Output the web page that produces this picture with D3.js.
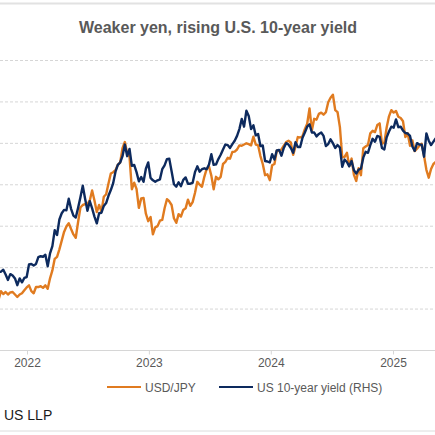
<html>
  <head>
    <style>
      body { margin: 0; background: #fff; }
      #main text { font-family: Arial, "Liberation Sans", sans-serif; }
    </style>
  </head>
  <body>
    <div id="main"><svg></svg></div>
    <script src="https://d3js.org/d3.v7.min.js"></script>
    <script>
      // weekly (Friday) readings, Sep 24 2021 .. May 9 2025
      var usdjpy2021 = [110.7, 111.0, 112.2, 114.2, 113.5, 114.0, 113.4, 113.9, 114.0, 113.4, 112.8, 113.4, 113.7, 114.4, 115.1];
      var usdjpy2022 = [115.6, 114.2, 113.7, 115.2, 115.2, 115.4, 115.0, 115.6, 114.8, 117.3, 119.2, 122.0,
                        122.5, 124.3, 126.4, 128.5, 129.8, 130.6, 129.2, 127.9, 127.1, 130.9, 134.4, 135.0, 135.2,
                        135.2, 136.1, 138.5, 136.1, 133.3, 135.0, 133.4, 137.0, 137.6, 140.2, 142.6, 142.9, 143.4, 144.7,
                        145.3, 148.7, 150.2, 147.5, 146.6, 138.8, 140.4, 138.9, 134.3, 136.6, 136.7, 132.9, 131.1];
      var usdjpy2023 = [132.1, 127.9, 129.6, 129.9, 131.2, 131.4, 134.2, 136.4, 135.9, 135.0, 131.8, 130.7, 132.8,
                        132.2, 133.8, 134.2, 136.3, 134.8, 135.7, 137.9, 140.6, 139.9, 139.4, 141.8, 143.7, 144.3,
                        142.1, 138.8, 141.8, 141.2, 141.8, 144.9, 145.4, 146.4, 146.2, 147.8, 147.9, 148.4, 149.4,
                        149.3, 149.6, 149.9, 149.7, 149.4, 151.5, 149.6, 149.4, 146.8, 144.9, 142.2, 142.4, 141.0];
      var usdjpy2024 = [144.6, 144.9, 148.1, 148.1, 148.4, 149.3, 150.2, 150.5, 150.1, 147.1, 149.1, 151.4, 151.3,
                        151.6, 153.3, 154.6, 158.3, 153.0, 155.8, 155.6, 157.0, 157.3, 156.8, 157.4, 159.8, 160.9,
                        161.6, 157.9, 157.4, 153.8, 146.5, 146.6, 147.6, 144.4, 146.2, 142.3, 140.8, 143.9, 142.2,
                        148.7, 149.1, 149.5, 152.3, 152.9, 152.6, 154.3, 154.7, 149.8, 150.0, 153.7, 156.4, 157.9];
      var usdjpy2025 = [157.3, 157.7, 156.3, 156.0, 155.2, 151.4, 152.3, 149.3, 150.6, 148.0, 148.6, 149.3, 149.8,
                        146.9, 143.5, 141.6, 143.7, 144.9, 145.4];

      var ust2021 = [1.46, 1.47, 1.61, 1.62, 1.66, 1.56, 1.45, 1.57, 1.54, 1.48, 1.34, 1.48, 1.40, 1.49, 1.51];
      var ust2022 = [1.77, 1.78, 1.75, 1.78, 1.92, 1.94, 1.93, 1.97, 1.73, 2.00, 2.15, 2.48, 2.38, 2.70, 2.83,
                     2.90, 2.89, 3.13, 2.92, 2.78, 2.74, 2.94, 3.16, 3.40, 3.13, 2.88, 3.08, 2.93, 2.76, 2.62,
                     2.83, 2.84, 2.98, 3.04, 3.19, 3.31, 3.45, 3.69, 3.83, 3.88, 4.01, 4.25, 4.01, 4.16, 3.81,
                     3.83, 3.68, 3.49, 3.58, 3.48, 3.75, 3.88];
      var ust2023 = [3.56, 3.51, 3.48, 3.51, 3.53, 3.74, 3.82, 3.95, 3.96, 3.70, 3.43, 3.38, 3.47, 3.39, 3.52,
                     3.57, 3.44, 3.44, 3.46, 3.68, 3.80, 3.69, 3.74, 3.76, 3.74, 3.84, 4.05, 3.83, 3.84, 3.95,
                     4.04, 4.15, 4.25, 4.24, 4.18, 4.26, 4.33, 4.43, 4.57, 4.78, 4.62, 4.95, 4.84, 4.57, 4.65,
                     4.44, 4.47, 4.22, 4.23, 3.91, 3.90, 3.88];
      var ust2024 = [4.05, 3.94, 4.13, 4.14, 4.02, 4.18, 4.28, 4.25, 4.18, 4.08, 4.30, 4.20, 4.20, 4.39, 4.50,
                     4.62, 4.67, 4.50, 4.50, 4.42, 4.47, 4.50, 4.43, 4.22, 4.26, 4.36, 4.28, 4.18, 4.24, 4.19,
                     3.79, 3.94, 3.89, 3.80, 3.91, 3.72, 3.65, 3.73, 3.75, 3.98, 4.10, 4.08, 4.24, 4.37, 4.31,
                     4.43, 4.41, 4.18, 4.15, 4.40, 4.52, 4.62];
      var ust2025 = [4.60, 4.77, 4.61, 4.62, 4.54, 4.49, 4.48, 4.43, 4.21, 4.12, 4.28, 4.25, 4.25, 4.00, 4.48,
                     4.33, 4.24, 4.31, 4.38];

      var yearTicks = [2022, 2023, 2024, 2025];
      var leftTicks = [100, 110, 120, 130, 140, 150, 160, 170];
      var seriesNames = ["USD/JPY", "US 10-year yield (RHS)"];
      var title = "Weaker yen, rising U.S. 10-year yield";
      var source = "US LLP";

      var usdjpy = [].concat(usdjpy2021, usdjpy2022, usdjpy2023, usdjpy2024, usdjpy2025);
      var ust = [].concat(ust2021, ust2022, ust2023, ust2024, ust2025);
      var weeks = d3.timeFriday.range(new Date(2021, 8, 24), new Date(2025, 4, 10));

      var width = 435, height = 435;
      var orange = "#e07b20", navy = "#0d2a5e";

      var svg = d3.select("#main svg").attr("width", width).attr("height", height);

      // frame lines of the cropped page
      svg.append("line").attr("x1", 0).attr("x2", width).attr("y1", 3.5).attr("y2", 3.5)
          .attr("stroke", "#e2e2e2").attr("stroke-width", 2);
      svg.append("line").attr("x1", 0).attr("x2", width).attr("y1", 431).attr("y2", 431)
          .attr("stroke", "#dcdcdc").attr("stroke-width", 1);

      svg.append("text").attr("x", 218).attr("y", 32.5).attr("text-anchor", "middle")
          .style("font-size", "16px").style("font-weight", "bold").attr("fill", "#595959")
          .text(title);

      var x = d3.scaleTime().domain([new Date(2022, 0, 1), new Date(2025, 0, 1)]).range([27, 393]);
      var yL = d3.scaleLinear().domain([100, 170]).range([350, 60]);
      var yR = d3.scaleLinear().domain([0, 6]).range([350, 60]);

      // gridlines
      svg.append("g").selectAll("line")
          .data(leftTicks.slice(1))
          .enter().append("line")
          .attr("x1", 0).attr("x2", width)
          .attr("y1", function(d) { return yL(d) + 0.5; })
          .attr("y2", function(d) { return yL(d) + 0.5; })
          .attr("stroke", "#d6d6d6").attr("stroke-dasharray", "3,2");

      var xAxis = d3.axisBottom(x)
          .tickValues(yearTicks.map(function(d) { return new Date(d, 0, 1); }))
          .tickFormat(d3.timeFormat("%Y"))
          .tickSize(4).tickPadding(4);
      var gx = svg.append("g").attr("transform", "translate(0," + (yL(100) + 0.5) + ")").call(xAxis);
      gx.select(".domain").remove();
      gx.insert("line", ":first-child").attr("x1", 0).attr("x2", width).attr("stroke", "#d6d6d6");
      gx.selectAll(".tick line").attr("stroke", "#d6d6d6");
      gx.selectAll(".tick text").attr("fill", "#595959").style("font-size", "12px");

      var lineL = d3.line()
          .x(function(d, i) { return x(weeks[i]); })
          .y(function(d) { return yL(d); });
      var lineR = d3.line()
          .x(function(d, i) { return x(weeks[i]); })
          .y(function(d) { return yR(d); });

      svg.append("path").datum(usdjpy).attr("d", lineL)
          .attr("fill", "none").attr("stroke", orange).attr("stroke-width", 2.4).attr("stroke-linejoin", "round");
      svg.append("path").datum(ust).attr("d", lineR)
          .attr("fill", "none").attr("stroke", navy).attr("stroke-width", 2.4).attr("stroke-linejoin", "round");

      // legend
      var legend = svg.append("g").attr("transform", "translate(0,387)");
      var items = legend.selectAll("g").data(seriesNames).enter().append("g")
          .attr("transform", function(d, i) { return "translate(" + [107, 219][i] + ",0)"; });
      items.append("line").attr("x1", 0).attr("x2", 34)
          .attr("stroke", function(d, i) { return [orange, navy][i]; }).attr("stroke-width", 2);
      items.append("text").attr("x", 38).attr("y", 4.5)
          .style("font-size", "12px").attr("fill", "#595959").text(function(d) { return d; });

      svg.append("text").attr("x", 4).attr("y", 420)
          .style("font-size", "14px").attr("fill", "#1a1a1a").text(source);
    </script>
  </body>
</html>
